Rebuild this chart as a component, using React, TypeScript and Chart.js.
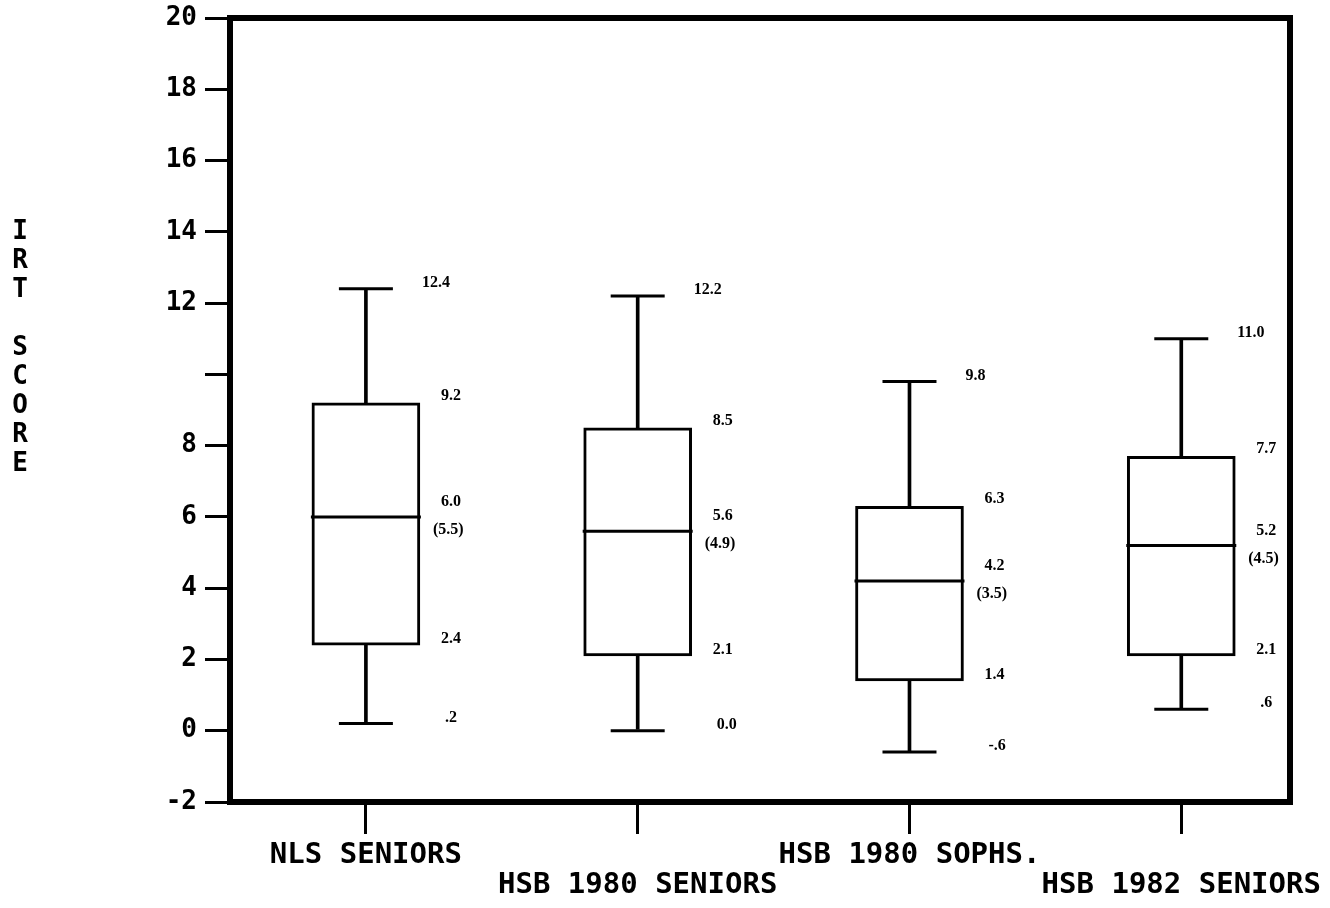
import React, { useEffect, useRef } from 'react';
import { Chart, registerables } from 'chart.js';

Chart.register(...registerables);

const categories = ['NLS SENIORS', 'HSB 1980 SENIORS', 'HSB 1980 SOPHS.', 'HSB 1982 SENIORS'];
const labelRows = [0, 1, 0, 1];
const positions = [1, 2, 3, 4];
const maxVals = [12.4, 12.2, 9.8, 11.0];
const q3Vals = [9.2, 8.5, 6.3, 7.7];
const medianVals = [6.0, 5.6, 4.2, 5.2];
const meanVals = [5.5, 4.9, 3.5, 4.5];
const q1Vals = [2.4, 2.1, 1.4, 2.1];
const minVals = [0.2, 0.0, -0.6, 0.6];
const maxText = ['12.4', '12.2', '9.8', '11.0'];
const q3Text = ['9.2', '8.5', '6.3', '7.7'];
const medianText = ['6.0', '5.6', '4.2', '5.2'];
const meanText = ['(5.5)', '(4.9)', '(3.5)', '(4.5)'];
const q1Text = ['2.4', '2.1', '1.4', '2.1'];
const minText = ['.2', '0.0', '-.6', '.6'];
const yTicks = [-2, 0, 2, 4, 6, 8, 10, 12, 14, 16, 18, 20];
const yTitle = ['I', 'R', 'T', '', 'S', 'C', 'O', 'R', 'E'];

const framePlugin = {
  id: 'frame',
  afterDraw(chart: any) {
    const { ctx, chartArea } = chart;
    ctx.save();
    ctx.strokeStyle = '#000';
    ctx.lineWidth = 6;
    ctx.strokeRect(chartArea.left, chartArea.top, chartArea.right - chartArea.left, chartArea.bottom - chartArea.top);
    ctx.fillStyle = '#000';
    ctx.font = 'bold 26px "DejaVu Sans Mono"';
    ctx.textAlign = 'center';
    ctx.textBaseline = 'middle';
    yTitle.forEach((ch, i) => {
      ctx.fillText(ch, 20, 232 + i * 29);
    });
    ctx.restore();
  },
};

const valueLabelPlugin = {
  id: 'valueLabels',
  afterDatasetsDraw(chart: any) {
    const { ctx } = chart;
    const xs = chart.scales.x;
    const ys = chart.scales.y;
    ctx.save();
    ctx.fillStyle = '#000';
    ctx.font = 'bold 16px "Liberation Serif"';
    ctx.textAlign = 'left';
    ctx.textBaseline = 'middle';
    positions.forEach((p, i) => {
      const px = xs.getPixelForValue(p);
      ctx.fillText(maxText[i], px + 56, ys.getPixelForValue(maxVals[i]) - 6);
      ctx.fillText(q3Text[i], px + 75, ys.getPixelForValue(q3Vals[i]) - 7);
      const med = ys.getPixelForValue(medianVals[i]);
      ctx.fillText(medianText[i], px + 75, med - 15);
      ctx.fillText(meanText[i], px + 67, med + 13);
      ctx.fillText(q1Text[i], px + 75, ys.getPixelForValue(q1Vals[i]) - 6);
      ctx.fillText(minText[i], px + 79, ys.getPixelForValue(minVals[i]) - 6);
    });
    ctx.restore();
  },
};

export default function App() {
  const ref = useRef<HTMLCanvasElement | null>(null);

  useEffect(() => {
    if (!ref.current) return;
    const chart = new Chart(ref.current, {
      type: 'bar',
      data: {
        datasets: [
          {
            type: 'scatter',
            label: 'median',
            order: 0,
            data: positions.map((x, i) => ({ x, y: medianVals[i] })),
            pointStyle: 'line',
            radius: 55,
            borderColor: '#000',
            borderWidth: 3,
          } as any,
          {
            type: 'scatter',
            label: 'caps',
            order: 1,
            data: [
              ...positions.map((x, i) => ({ x, y: maxVals[i] })),
              ...positions.map((x, i) => ({ x, y: minVals[i] })),
            ],
            pointStyle: 'line',
            radius: 27,
            borderColor: '#000',
            borderWidth: 3,
          } as any,
          {
            type: 'bar',
            label: 'box',
            order: 2,
            data: positions.map((x, i) => ({ x, y: [q1Vals[i], q3Vals[i]] })),
            backgroundColor: '#fff',
            borderColor: '#000',
            borderWidth: 3,
            borderSkipped: false,
            barThickness: 108,
            grouped: false,
          } as any,
          {
            type: 'bar',
            label: 'upper whisker',
            order: 3,
            data: positions.map((x, i) => ({ x, y: [q3Vals[i], maxVals[i]] })),
            backgroundColor: '#000',
            borderWidth: 0,
            barThickness: 3,
            grouped: false,
          } as any,
          {
            type: 'bar',
            label: 'lower whisker',
            order: 3,
            data: positions.map((x, i) => ({ x, y: [minVals[i], q1Vals[i]] })),
            backgroundColor: '#000',
            borderWidth: 0,
            barThickness: 3,
            grouped: false,
          } as any,
        ],
      },
      options: {
        animation: false,
        responsive: false,
        layout: { autoPadding: false, padding: { left: 160, top: 18, right: 40, bottom: 6 } },
        plugins: { legend: { display: false }, tooltip: { enabled: false } },
        scales: {
          x: {
            type: 'linear',
            min: 0.5,
            max: 4.4,
            offset: false,
            afterBuildTicks: (s: any) => {
              s.ticks = positions.map((v) => ({ value: v }));
            },
            afterFit: (s: any) => {
              s.height = 100;
              s.paddingLeft = 0;
              s.paddingRight = 0;
              s.paddingTop = 0;
              s.paddingBottom = 0;
            },
            grid: { drawOnChartArea: false, drawTicks: true, tickLength: 32, lineWidth: 3, color: '#000', offset: false },
            border: { display: false },
            ticks: {
              color: '#000',
              padding: 6,
              autoSkip: false,
              maxRotation: 0,
              font: { family: '"DejaVu Sans Mono"', weight: 'bold', size: 29, lineHeight: 1.05 },
              callback: (v: any) => {
                const i = positions.indexOf(Number(v));
                if (i < 0) return '';
                return labelRows[i] === 0 ? [categories[i], ''] : ['', categories[i]];
              },
            },
          },
          y: {
            type: 'linear',
            min: -2,
            max: 20,
            afterBuildTicks: (s: any) => {
              s.ticks = yTicks.map((v) => ({ value: v }));
            },
            afterFit: (s: any) => {
              s.width = 70;
              s.paddingLeft = 0;
              s.paddingRight = 0;
              s.paddingTop = 0;
              s.paddingBottom = 0;
            },
            grid: { drawOnChartArea: false, drawTicks: true, tickLength: 25, lineWidth: 3, color: '#000' },
            border: { display: false },
            ticks: {
              color: '#000',
              padding: 8,
              font: { family: '"DejaVu Sans Mono"', weight: 'bold', size: 26 },
              callback: (v: any) => (Number(v) === 10 ? '' : String(v)),
            },
          },
        },
      } as any,
      plugins: [framePlugin, valueLabelPlugin],
    });
    return () => chart.destroy();
  }, []);

  return (
    <div style={{ position: 'absolute', left: 0, top: 0, width: 1330, height: 908, background: '#fff' }}>
      <canvas ref={ref} width={1330} height={908} style={{ display: 'block' }} />
    </div>
  );
}
